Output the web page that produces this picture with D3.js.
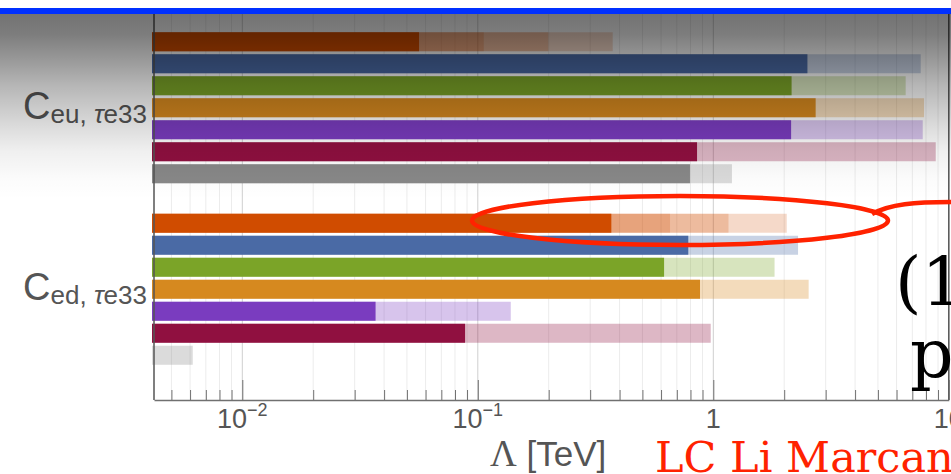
<!DOCTYPE html>
<html>
    <head>
        <meta charset="UTF-8">
        <script src="https://d3js.org/d3.v7.min.js"></script>
        <style>
            body { margin: 0; background: #fff; }
            svg { display: block; }
        </style>
    </head>
    <body>
        <div id='chart'></div>
        <script type='text/javascript'>
            // data (TeV)
            var groupNames = ["eu", "ed"];
            var rowColors = ["#d04c00", "#4a6aa5", "#7ba428", "#d6891f", "#7a3cbf", "#901040", "#888888"];
            var ceuSolid = [0.0563, 2.51, 2.15, 2.72, 2.14, 0.853, 0.796];
            var ceuReach = [[0.106, 0.199, 0.374], [7.60], [6.56], [7.85], [7.75], [8.80], [1.20]];
            var cedSolid = [0.369, 0.783, 0.618, 0.878, 0.0368, 0.0883, null];
            var cedReach = [[0.655, 1.16, 2.05], [2.29], [1.82], [2.54], [0.138], [0.975], [0.00616]];
            var majorTicks = [0.01, 0.1, 1, 10];
            var tickExponents = [-2, -1, 0, 1];

            var width = 951;
            var height = 474;
            var axisY = 400;
            var plotTop = 14;

            var solid = [ceuSolid, cedSolid];
            var reach = [ceuReach, cedReach];

            var svg = d3.select("#chart")
                    .append("svg")
                    .attr("width", width)
                    .attr("height", height);

            var xscale = d3.scaleLog()
                    .domain([Math.pow(10, -2.375), 10])
                    .range([154, 948.8]);

            var ygroup = d3.scaleBand()
                    .domain(groupNames)
                    .range([17, 380]);

            var yrow = d3.scaleBand()
                    .domain(d3.range(7))
                    .range([13.75, 167.75])
                    .paddingInner(3 / 22)
                    .paddingOuter(1.5 / 22);

            // minor + major tick values
            var allTicks = [];
            [-3, -2, -1, 0].forEach(function(e) {
                for (var m = 1; m < 10; m++) {
                    var v = m * Math.pow(10, e);
                    if (v >= xscale.domain()[0] && v <= 10) allTicks.push(v);
                }
            });
            allTicks.push(10);

            // grid
            svg.append("g")
                .selectAll("line")
                .data(allTicks)
                .enter()
                .append("line")
                .attr("x1", d => xscale(d))
                .attr("x2", d => xscale(d))
                .attr("y1", plotTop)
                .attr("y2", axisY)
                .attr("stroke", d => majorTicks.indexOf(d) >= 0 ? "#cfcfcf" : "#ececec")
                .attr("stroke-width", 1);

            // bars
            var x0 = xscale.range()[0] - 2;
            var bars = svg.append("g");
            groupNames.forEach(function(g, gi) {
                solid[gi].forEach(function(v, i) {
                    var y = ygroup(g) + yrow(i);
                    var lights = reach[gi][i];
                    bars.selectAll(null)
                        .data(lights)
                        .enter()
                        .append("rect")
                        .attr("x", x0)
                        .attr("y", y)
                        .attr("width", d => xscale(d) - x0)
                        .attr("height", yrow.bandwidth())
                        .attr("fill", rowColors[i])
                        .attr("fill-opacity", lights.length > 1 ? 0.21 : 0.3);
                    if (v !== null) {
                        bars.append("rect")
                            .attr("x", x0)
                            .attr("y", y)
                            .attr("width", xscale(v) - x0)
                            .attr("height", yrow.bandwidth())
                            .attr("fill", rowColors[i]);
                    }
                });
            });

            // frame + axis
            svg.append("line")
                .attr("x1", xscale.range()[0]).attr("x2", xscale.range()[0])
                .attr("y1", plotTop).attr("y2", axisY)
                .attr("stroke", "#555").attr("stroke-width", 1.5);
            svg.append("line")
                .attr("x1", xscale.range()[1]).attr("x2", xscale.range()[1])
                .attr("y1", plotTop).attr("y2", axisY)
                .attr("stroke", "#555").attr("stroke-width", 1.5);

            var xaxis = d3.axisBottom(xscale)
                    .tickValues(allTicks)
                    .tickSize(0)
                    .tickFormat("");
            var axisG = svg.append("g")
                    .attr("transform", "translate(0," + axisY + ")")
                    .call(xaxis);
            axisG.select(".domain").attr("stroke", "#707070").attr("stroke-width", 1.5);
            axisG.selectAll(".tick line")
                .attr("y2", d => majorTicks.indexOf(d) >= 0 ? -20 : -10)
                .attr("stroke", "#707070");

            var labels = svg.append("g")
                    .attr("font-family", "Liberation Sans, Arial, sans-serif")
                    .attr("fill", "#555");
            majorTicks.forEach(function(v, i) {
                var t = labels.append("text")
                    .attr("x", xscale(v))
                    .attr("y", axisY + 28)
                    .attr("text-anchor", "middle")
                    .attr("font-size", 27);
                var e = tickExponents[i];
                if (e < 0) {
                    t.append("tspan").text("10");
                    t.append("tspan").attr("font-size", 18).attr("dy", -12).text("\u2212" + (-e));
                } else {
                    t.text(e === 0 ? "1" : "10");
                }
            });

            // group labels
            groupNames.forEach(function(g) {
                var cy = ygroup(g) + ygroup.bandwidth() / 2;
                var t = labels.append("text")
                    .attr("x", 147)
                    .attr("y", cy + 11)
                    .attr("text-anchor", "end")
                    .attr("font-size", 38);
                t.append("tspan").text("C");
                t.append("tspan").attr("font-size", 26).attr("dy", 4).text(g + ", ");
                t.append("tspan").attr("font-size", 26).attr("font-style", "italic").text("\u03c4");
                t.append("tspan").attr("font-size", 26).text("e33");
            });

            // axis title
            var title = svg.append("text")
                    .attr("x", 490)
                    .attr("y", 466)
                    .attr("fill", "#555");
            title.append("tspan")
                .attr("font-family", "Liberation Serif, serif")
                .attr("font-size", 37)
                .text("\u039b");
            title.append("tspan")
                .attr("font-family", "Liberation Sans, Arial, sans-serif")
                .attr("font-size", 35)
                .text(" [TeV]");

            // shading over the top of the slide
            var grad = svg.append("defs")
                    .append("linearGradient")
                    .attr("id", "shade")
                    .attr("gradientUnits", "userSpaceOnUse")
                    .attr("x1", 0).attr("x2", 0)
                    .attr("y1", plotTop).attr("y2", 200);
            var stops = [[0, 0.55], [0.11, 0.51], [0.26, 0.39], [0.38, 0.29], [0.5, 0.21], [0.62, 0.13], [0.74, 0.06], [0.89, 0.015], [1, 0]];
            stops.forEach(function(s) {
                grad.append("stop")
                    .attr("offset", s[0])
                    .attr("stop-color", "#000")
                    .attr("stop-opacity", s[1]);
            });
            svg.append("rect")
                .attr("x", 0).attr("y", plotTop)
                .attr("width", width).attr("height", 200 - plotTop)
                .attr("fill", "url(#shade)");

            // slide decorations
            svg.append("rect")
                .attr("x", 0).attr("y", 8)
                .attr("width", width).attr("height", 6)
                .attr("fill", "#0030ff");

            svg.append("ellipse")
                .attr("cx", 680).attr("cy", 220.5)
                .attr("rx", 208).attr("ry", 24.5)
                .attr("fill", "none")
                .attr("stroke", "#ff2200")
                .attr("stroke-width", 4.5);
            svg.append("path")
                .attr("d", "M872,214 C890,204 915,202 951,202")
                .attr("fill", "none")
                .attr("stroke", "#ff2200")
                .attr("stroke-width", 4.5);

            svg.append("text")
                .attr("x", 895).attr("y", 305)
                .attr("font-family", "DejaVu Serif, serif")
                .attr("font-size", 68)
                .attr("fill", "#000")
                .text("(1");
            svg.append("text")
                .attr("x", 910).attr("y", 377)
                .attr("font-family", "DejaVu Serif, serif")
                .attr("font-size", 68)
                .attr("fill", "#000")
                .text("p");

            svg.append("text")
                .attr("x", 655).attr("y", 472)
                .attr("font-family", "DejaVu Serif, serif")
                .attr("font-size", 43)
                .attr("fill", "#ff2200")
                .text("LC Li Marcano");
        </script>
    </body>
</html>
